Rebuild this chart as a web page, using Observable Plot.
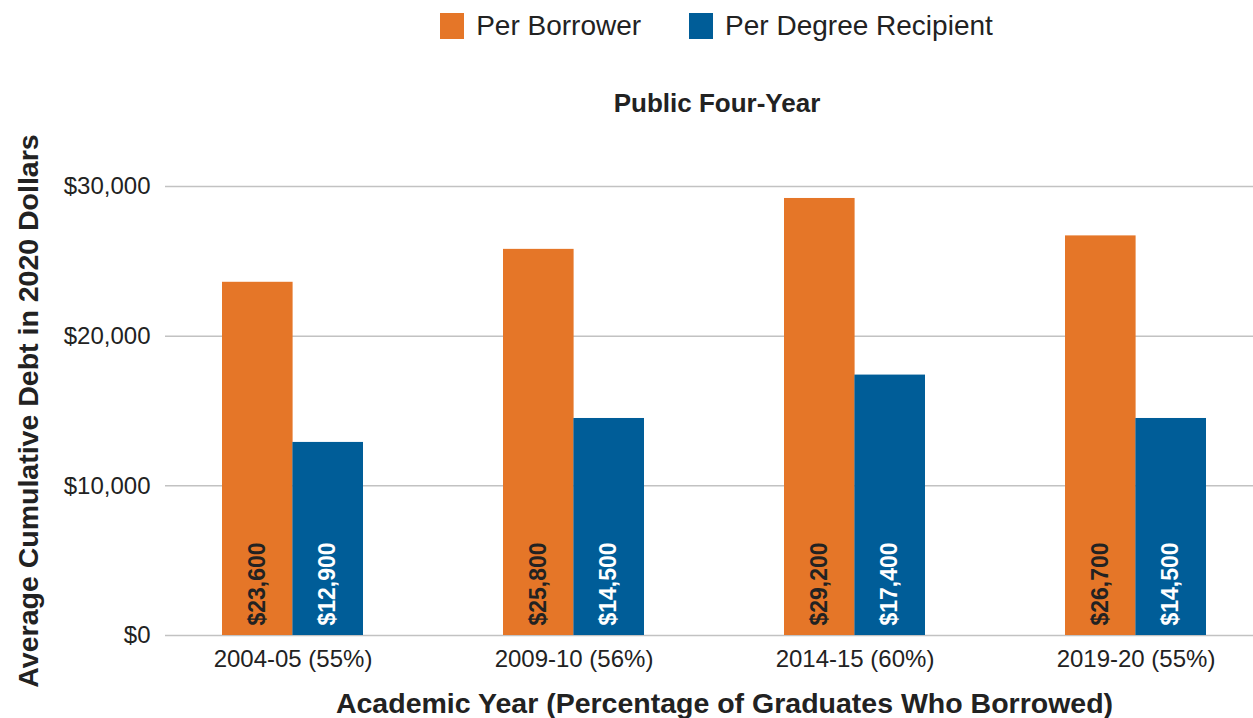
<!DOCTYPE html>
<html><head><meta charset="utf-8">
<script src="https://cdn.jsdelivr.net/npm/d3@7"></script>
<script src="https://cdn.jsdelivr.net/npm/@observablehq/plot@0.6"></script>
<style>
body{margin:0;background:#fff;font-family:"Liberation Sans",Arial,sans-serif;color:#222;width:1253px;}
#legend{height:52px;display:flex;align-items:center;justify-content:center;padding-left:180px;box-sizing:border-box;font-size:28px;}
.item{display:flex;align-items:center;}
.sw{width:24px;height:26px;margin-right:12px;}
#title{height:75px;box-sizing:border-box;padding-top:36px;padding-left:181px;text-align:center;font-weight:bold;font-size:26px;line-height:30px;}
</style></head>
<body>
<div id="legend"></div>
<div id="title"></div>
<div id="chart"></div>
<script>
const titleText = "Public Four-Year";
const years = ["2004-05 (55%)", "2009-10 (56%)", "2014-15 (60%)", "2019-20 (55%)"];
const seriesNames = ["Per Borrower", "Per Degree Recipient"];
const seriesColors = ["#E57628", "#005D98"];
const labelColors = ["#222222", "#ffffff"];
const perBorrower = [23600, 25800, 29200, 26700];
const perDegree = [12900, 14500, 17400, 14500];
const yTicks = [0, 10000, 20000, 30000];
const xLabel = "Academic Year (Percentage of Graduates Who Borrowed)";
const yLabel = "Average Cumulative Debt in 2020 Dollars";

document.getElementById("title").textContent = titleText;
const legend = document.getElementById("legend");
seriesNames.forEach((s, i) => {
  const it = document.createElement("div");
  it.className = "item";
  if (i > 0) it.style.marginLeft = "48px";
  const sw = document.createElement("div");
  sw.className = "sw"; sw.style.background = seriesColors[i];
  const t = document.createElement("span"); t.textContent = s;
  it.append(sw, t); legend.append(it);
});

const rows = [];
years.forEach((y, i) => {
  rows.push({year: y, series: seriesNames[0], value: perBorrower[i]});
  rows.push({year: y, series: seriesNames[1], value: perDegree[i]});
});
const A = rows.filter(d => d.series === seriesNames[0]);
const B = rows.filter(d => d.series === seriesNames[1]);
const half = 70.4;
const fmt = d => "$" + d3.format(",")(d);

const chart = Plot.plot({
  width: 1253, height: 591,
  marginTop: 59, marginBottom: 83, marginLeft: 165, marginRight: 0,
  style: {fontFamily: "'Liberation Sans', Arial, sans-serif", color: "#222", background: "#fff", overflow: "visible"},
  x: {domain: years, range: [151, 1277], paddingInner: 0.5, paddingOuter: 0.25},
  y: {domain: [0, 30000]},
  color: {domain: seriesNames, range: seriesColors},
  marks: [
    Plot.ruleY(yTicks, {stroke: "#c2c2c2", strokeWidth: 1.5}),
    Plot.barY(A, {x: "year", y: "value", fill: "series", insetRight: half}),
    Plot.barY(B, {x: "year", y: "value", fill: "series", insetLeft: half}),
    Plot.text(A, {x: "year", y: () => 0, text: d => fmt(d.value), rotate: -90, textAnchor: "start", lineAnchor: "middle", dx: -35, dy: -10, fontSize: 23, fontWeight: "bold", fill: labelColors[0]}),
    Plot.text(B, {x: "year", y: () => 0, text: d => fmt(d.value), rotate: -90, textAnchor: "start", lineAnchor: "middle", dx: 35, dy: -10, fontSize: 23, fontWeight: "bold", fill: labelColors[1]}),
    Plot.axisY({ticks: yTicks, tickFormat: fmt, tickSize: 0, tickPadding: 15, fontSize: 24, label: null}),
    Plot.axisX({tickSize: 0, tickPadding: 14, fontSize: 24, label: null}),
    Plot.text([xLabel], {frameAnchor: "bottom", text: d => d, dx: 15, dy: 68, fontSize: 28.5, fontWeight: "bold", lineAnchor: "middle", textAnchor: "middle"}),
    Plot.text([yLabel], {frameAnchor: "left", text: d => d, rotate: -90, dx: -137, fontSize: 28.5, fontWeight: "bold", lineAnchor: "middle", textAnchor: "middle"})
  ]
});
document.getElementById("chart").append(chart);
</script>
</body></html>
